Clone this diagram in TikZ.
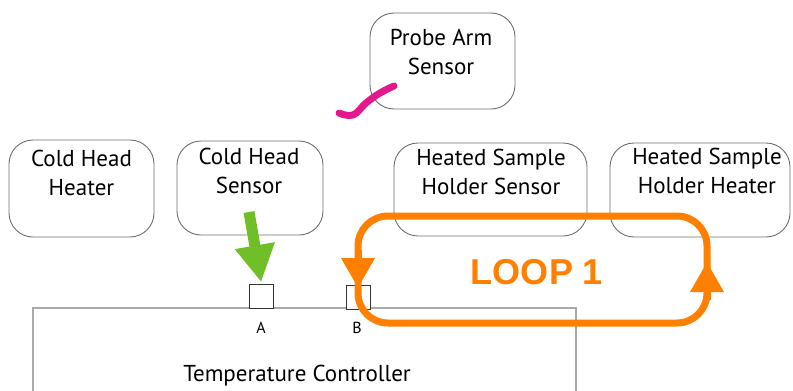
\documentclass[tikz,border=0pt]{standalone}
\usepackage{fontspec}
\setmainfont{PT Sans}
\newfontfamily\loopfont{Liberation Sans}
\usetikzlibrary{arrows.meta}
\definecolor{boxgray}{RGB}{110,110,110}
\definecolor{ctrlgray}{RGB}{170,170,170}
\definecolor{looporange}{RGB}{255,128,0}
\definecolor{arrowgreen}{RGB}{112,190,40}
\definecolor{probemagenta}{RGB}{226,25,140}
\tikzset{
  devbox/.style={draw=boxgray, line width=0.9pt, rounded corners=24pt, fill=none},
  devtext/.style={font=\fontsize{23}{29}\selectfont, align=center, anchor=base, inner sep=0pt},
  port/.style={draw=black!80, line width=0.9pt, minimum width=24pt, minimum height=24pt, inner sep=0pt},
  portlabel/.style={font=\fontsize{16}{18}\selectfont, anchor=base, inner sep=0pt},
  loopline/.style={draw=looporange, line width=7pt, rounded corners=30pt},
  looptip/.style={draw=looporange, line width=7pt, -{Triangle[width=32pt,length=30pt]}},
}
\begin{document}
\begin{tikzpicture}[x=1pt,y=-1pt]
\useasboundingbox (0,0) rectangle (793,391);
% device boxes
\node[devbox, minimum width=145pt, minimum height=96pt] (probe) at (442.5,61) {};
\node[devbox, minimum width=145pt, minimum height=97pt] (chh) at (81.5,188.5) {};
\node[devbox, minimum width=146pt, minimum height=94pt] (chs) at (250,188) {};
\node[devbox, minimum width=193pt, minimum height=93pt] (hss) at (490.5,189.5) {};
\node[devbox, minimum width=180pt, minimum height=94pt] (hsh) at (700,190) {};
% texts (anchor base = baseline of last line)
\node[devtext] (probetext) at (441,74) {Probe Arm\\Sensor};
\node[devtext] (chhtext) at (81.5,195) {Cold Head\\Heater};
\node[devtext] (chstext) at (249,193) {Cold Head\\Sensor};
\node[devtext] (hsstext) at (491,194) {Heated Sample\\Holder Sensor};
\node[devtext] (hshtext) at (707,193) {Heated Sample\\Holder Heater};
% controller
\draw[draw=ctrlgray, line width=1.5pt] (33,395) coordinate (cbl) |- (576,308) coordinate (ctr) -- (576,395);
\node[devtext] (ctrltext) at (297,381) {Temperature Controller};
\node[port, fill=white] (A) at (261.5,296.5) {};
\node[port, fill=white] (B) at (358,297) {};
\node[portlabel] (Alab) at (261,333) {A};
\node[portlabel] (Blab) at (357,333) {B};
% probe squiggle
\draw[probemagenta, line width=7pt, line cap=round] plot[smooth, tension=0.7] coordinates {(339,113) (353,115) (366,103) (380,93) (394,86)};
% green arrow
\coordinate (gstart) at (249,212);
\draw[arrowgreen, line width=11pt, -{Triangle[width=38pt,length=37pt]}, shorten >=2pt] (gstart) -- (A.north);
% loop
\draw[loopline] (358,216) rectangle (707,323);
\coordinate (lt1) at (358,250);
\coordinate (lt2) at (358,288);
\coordinate (rt1) at (707,300);
\coordinate (rt2) at (707,262);
\draw[looptip] (lt1) -- (lt2);
\draw[looptip] (rt1) -- (rt2);
\node[font=\loopfont\bfseries\fontsize{36}{40}\selectfont, text=looporange, inner sep=0pt] (looptext) at (537,272) {LOOP 1};
\end{tikzpicture}
\end{document}
